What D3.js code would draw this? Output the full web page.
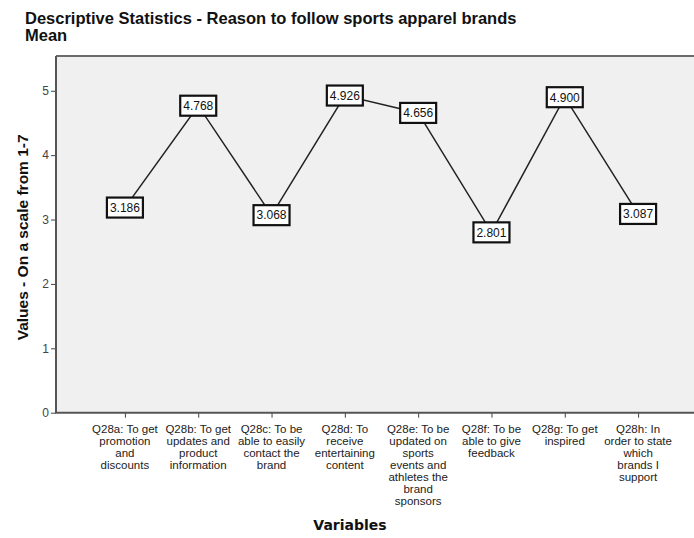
<!DOCTYPE html>
<html>
<head>
<meta charset="utf-8">
<script src="https://cdn.jsdelivr.net/npm/d3@7"></script>
<style>
  html, body { margin: 0; padding: 0; background: #fff; overflow: hidden; }
  svg { display: block; }
</style>
</head>
<body>
<svg id="chart" width="694" height="538"></svg>
<script>
const categories = ["Q28a","Q28b","Q28c","Q28d","Q28e","Q28f","Q28g","Q28h"];
const categoryLabels = [
  ["Q28a: To get", "promotion", "and", "discounts"],
  ["Q28b: To get", "updates and", "product", "information"],
  ["Q28c: To be", "able to easily", "contact the", "brand"],
  ["Q28d: To", "receive", "entertaining", "content"],
  ["Q28e: To be", "updated on", "sports", "events and", "athletes the", "brand", "sponsors"],
  ["Q28f: To be", "able to give", "feedback"],
  ["Q28g: To get", "inspired"],
  ["Q28h: In", "order to state", "which", "brands I", "support"]
];
const meanValues = [3.186, 4.768, 3.068, 4.926, 4.656, 2.801, 4.900, 3.087];
const yTicks = [0, 1, 2, 3, 4, 5];
const titleLines = ["Descriptive Statistics - Reason to follow sports apparel brands", "Mean"];
const yTitle = "Values - On a scale from 1-7";
const xTitle = "Variables";

const svg = d3.select("#chart");
const font = "Arial, 'Liberation Sans', sans-serif";

const plot = { left: 56, top: 56, right: 707, bottom: 412.7 };

const x = d3.scalePoint().domain(categories).range([plot.left, plot.right]).padding(0.94);
const y = d3.scaleLinear().domain([0, 5.54]).range([plot.bottom, plot.top]);

// background
svg.append("rect")
  .attr("x", plot.left).attr("y", plot.top)
  .attr("width", plot.right - plot.left).attr("height", plot.bottom - plot.top)
  .attr("fill", "#f0f0f0");

// top frame
svg.append("line").attr("x1", plot.left).attr("x2", plot.right).attr("y1", plot.top).attr("y2", plot.top)
  .attr("stroke", "#6b6b6b").attr("stroke-width", 2);

// y axis
const yAxis = d3.axisLeft(y).tickValues(yTicks).tickFormat(d3.format("d")).tickSize(5).tickPadding(2);
const gy = svg.append("g").attr("transform", `translate(${plot.left},0)`).call(yAxis);
gy.select(".domain").remove();
gy.selectAll(".tick line").attr("stroke", "#444").attr("stroke-width", 1);
gy.selectAll(".tick text").attr("font-family", font).attr("font-size", 12).attr("fill", "#444");
svg.append("line").attr("x1", plot.left).attr("x2", plot.left).attr("y1", plot.top).attr("y2", plot.bottom)
  .attr("stroke", "#555").attr("stroke-width", 2);

// x axis
const xAxis = d3.axisBottom(x).tickSize(5).tickFormat("");
const gx = svg.append("g").attr("transform", `translate(0,${plot.bottom})`).call(xAxis);
gx.select(".domain").remove();
gx.selectAll(".tick line").attr("stroke", "#444").attr("stroke-width", 1);
svg.append("line").attr("x1", plot.left - 1).attr("x2", plot.right).attr("y1", plot.bottom).attr("y2", plot.bottom)
  .attr("stroke", "#555").attr("stroke-width", 2);

// category labels
categories.forEach((c, i) => {
  const t = svg.append("text")
    .attr("x", x(c)).attr("y", 433)
    .attr("text-anchor", "middle")
    .attr("font-family", font).attr("font-size", 11.5).attr("fill", "#222");
  categoryLabels[i].forEach((ln, j) => {
    t.append("tspan").attr("x", x(c)).attr("dy", j === 0 ? 0 : 12).text(ln);
  });
});

// line
const line = d3.line().x((d, i) => x(categories[i])).y(d => y(d));
svg.append("path").datum(meanValues)
  .attr("d", line).attr("fill", "none").attr("stroke", "#222").attr("stroke-width", 1.5);

// value boxes
const bw = 36, bh = 20;
const g = svg.append("g");
meanValues.forEach((v, i) => {
  const cx = x(categories[i]), cy = y(v);
  g.append("rect").attr("x", cx - bw / 2).attr("y", cy - bh / 2)
    .attr("width", bw).attr("height", bh)
    .attr("fill", "#fff").attr("stroke", "#111").attr("stroke-width", 2.2);
  g.append("text").attr("x", cx).attr("y", cy + 4.3)
    .attr("text-anchor", "middle")
    .attr("font-family", font).attr("font-size", 12).attr("fill", "#111")
    .text(d3.format(".3f")(v));
});

// titles
titleLines.forEach((t, i) => {
  svg.append("text").attr("x", 25).attr("y", 24 + i * 17)
    .attr("font-family", font).attr("font-weight", "bold").attr("font-size", 16.5).attr("fill", "#111")
    .text(t);
});

svg.append("text")
  .attr("transform", `translate(28,${(plot.top + plot.bottom) / 2 + 3}) rotate(-90)`)
  .attr("text-anchor", "middle")
  .attr("font-family", font).attr("font-weight", "bold").attr("font-size", 15.5).attr("fill", "#111")
  .text(yTitle);

svg.append("text")
  .attr("x", 350).attr("y", 530)
  .attr("text-anchor", "middle")
  .attr("font-family", "'DejaVu Sans', sans-serif").attr("font-weight", "bold").attr("font-size", 14).attr("fill", "#111")
  .text(xTitle);
</script>
</body>
</html>
